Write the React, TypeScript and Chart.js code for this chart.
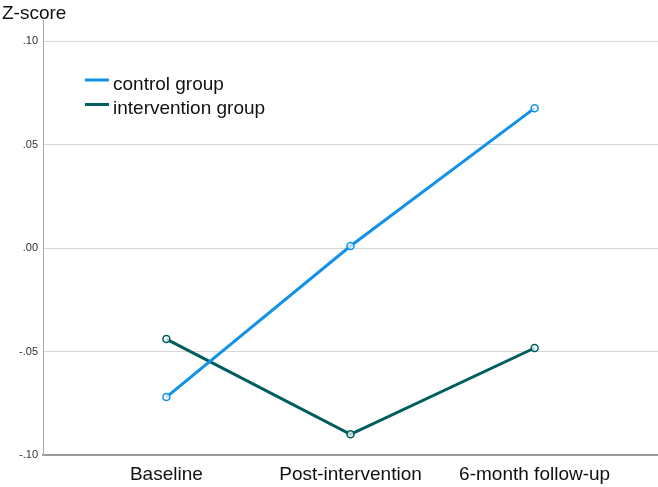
import React, { useEffect, useRef } from "react";
import { Chart, registerables } from "chart.js";

Chart.register(...registerables);

const categories = ["Baseline", "Post-intervention", "6-month follow-up"];
const controlValues = [-0.072, 0.001, 0.0676];
const interventionValues = [-0.044, -0.090, -0.0483];
const yTickValues = [0.1, 0.05, 0.0, -0.05, -0.1];
const seriesLabels = ["control group", "intervention group"];
const seriesColors = ["#1192e8", "#005d5d"];
const axisTitle = "Z-score";

const FONT = "'Liberation Sans', Arial, sans-serif";

function fmt(v: number): string {
  const r = Math.round(v * 100) / 100;
  const s = Math.abs(r).toFixed(2).replace(/^0/, "");
  return r < 0 ? "-" + s : s;
}

const overlayPlugin = {
  id: "overlay",
  afterDraw(chart: any) {
    const ctx = chart.ctx;
    ctx.save();
    ctx.fillStyle = "#111";
    ctx.font = `19px ${FONT}`;
    ctx.textAlign = "left";
    ctx.textBaseline = "alphabetic";
    ctx.fillText(axisTitle, 2, 19);
    chart.data.datasets.forEach((ds: any, i: number) => {
      const y = 80 + i * 24.5;
      ctx.strokeStyle = ds.borderColor;
      ctx.lineWidth = 3;
      ctx.beginPath();
      ctx.moveTo(85, y);
      ctx.lineTo(109, y);
      ctx.stroke();
      ctx.fillStyle = "#111";
      ctx.font = `19px ${FONT}`;
      ctx.fillText(ds.label, 113, y + 9.5);
    });
    ctx.restore();
  },
};

export default function App() {
  const ref = useRef<HTMLCanvasElement | null>(null);
  useEffect(() => {
    document.body.style.margin = "0";
    const canvas = ref.current!;
    const chart = new Chart(canvas, {
      type: "line",
      data: {
        datasets: [
          {
            label: seriesLabels[0],
            data: controlValues.map((v, i) => ({ x: i, y: v })),
            borderColor: seriesColors[0],
            backgroundColor: seriesColors[0],
            borderWidth: 3,
            pointRadius: 3.5,
            pointBorderWidth: 1.5,
            pointBorderColor: seriesColors[0],
            pointBackgroundColor: "rgba(255,255,255,0.7)",
            tension: 0,
          },
          {
            label: seriesLabels[1],
            data: interventionValues.map((v, i) => ({ x: i, y: v })),
            borderColor: seriesColors[1],
            backgroundColor: seriesColors[1],
            borderWidth: 3,
            pointRadius: 3.5,
            pointBorderWidth: 1.5,
            pointBorderColor: seriesColors[1],
            pointBackgroundColor: "rgba(255,255,255,0.7)",
            tension: 0,
          },
        ],
      },
      options: {
        responsive: false,
        animation: false,
        layout: { autoPadding: false, padding: { top: 20, right: 0, left: 0, bottom: 0 } },
        plugins: {
          legend: { display: false },
          tooltip: { enabled: false },
          title: { display: false },
        },
        scales: {
          x: {
            type: "linear",
            min: -0.67,
            max: 2.67,
            afterBuildTicks: (scale: any) => {
              scale.ticks = categories.map((_, i) => ({ value: i }));
            },
            afterFit: (scale: any) => {
              scale.height = 32;
              scale.paddingLeft = 0;
              scale.paddingRight = 0;
            },
            grid: { display: false, drawTicks: false },
            border: { display: true, color: "#9a9a9a", width: 2 },
            ticks: {
              autoSkip: false,
              maxRotation: 0,
              padding: 8,
              color: "#111",
              font: { family: FONT, size: 19 },
              callback: (v: any) => categories[Math.round(Number(v))] ?? "",
            },
          },
          y: {
            type: "linear",
            min: -0.1,
            max: 0.1102,
            afterBuildTicks: (scale: any) => {
              scale.ticks = yTickValues.map((v) => ({ value: v }));
            },
            afterFit: (scale: any) => {
              scale.width = 43;
              scale.paddingTop = 0;
              scale.paddingBottom = 0;
            },
            grid: { color: "#d6d6d6", lineWidth: 1, drawTicks: false },
            border: { display: true, color: "#a8a8a8", width: 1 },
            ticks: {
              padding: 5,
              color: "#333",
              font: { family: FONT, size: 11 },
              callback: (v: any) => fmt(Number(v)),
            },
          },
        },
      },
      plugins: [overlayPlugin],
    } as any);
    return () => chart.destroy();
  }, []);
  return (
    <div style={{ width: 658, height: 487, background: "#fff" }}>
      <canvas ref={ref} width={658} height={487} style={{ display: "block" }} />
    </div>
  );
}
